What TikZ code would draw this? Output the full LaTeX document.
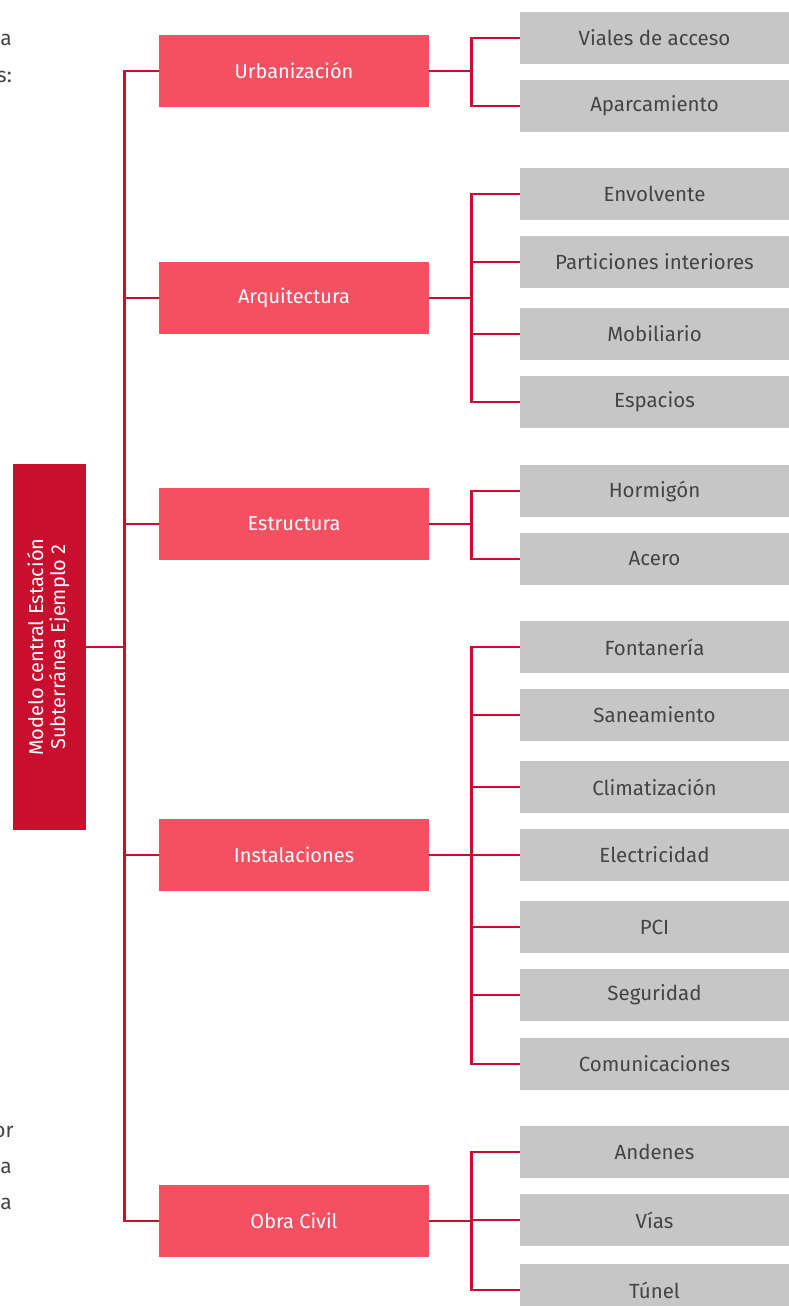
\documentclass[tikz,border=0pt]{standalone}
\usepackage{fontspec}
\setmainfont{Fira Sans}
\usetikzlibrary{positioning}
\definecolor{rootred}{HTML}{C8102E}
\definecolor{catred}{HTML}{F45062}
\definecolor{leafgray}{HTML}{C6C6C6}
\definecolor{wire}{HTML}{C8102E}
\definecolor{txtgray}{HTML}{444444}
\tikzset{
  rootbox/.style={fill=rootred, minimum width=73pt, minimum height=366pt, inner sep=0pt, text=white, font=\fontsize{20}{23}\selectfont},
  catbox/.style={fill=catred, minimum width=270pt, minimum height=72pt, inner sep=0pt, text=white, font=\fontsize{20}{24}\selectfont},
  leafbox/.style={fill=leafgray, minimum width=269pt, minimum height=52pt, inner sep=0pt, text=txtgray, font=\fontsize{20.5}{24}\selectfont},
  frag/.style={anchor=east, inner sep=0pt, text=txtgray, font=\fontsize{21}{24}\selectfont},
  wirestyle/.style={draw=wire, line width=2.6pt}
}
\begin{document}
\begin{tikzpicture}[x=1pt, y=-1pt]
\useasboundingbox (0,0) rectangle (789,1306);
\begin{scope}
\clip (0,0) rectangle (789,1306);

% fragments of the surrounding paragraph text
\node[frag] (fa) at (12,40) {a};
\node[frag] (fb) at (12,77) {s:};
\node[frag] (fc) at (14,1132) {or};
\node[frag] (fd) at (12,1168) {a};
\node[frag] (fe) at (12,1204) {a};

% root
\node[rootbox] (root) at (49.5,647) {\rotatebox{90}{\begin{tabular}{@{}c@{}}Modelo central Estación\\[-1pt] Subterránea Ejemplo 2\end{tabular}}};

% categories
\node[catbox] (urb) at (294,71) {Urbanización};
\node[catbox] (arq) at (294,298) {Arquitectura};
\node[catbox] (est) at (294,524) {Estructura};
\node[catbox] (ins) at (294,855) {Instalaciones};
\node[catbox] (obr) at (294,1221) {Obra Civil};

% leaves
\node[leafbox] (l1) at (654.5,38) {Viales de acceso};
\node[leafbox] (l2) at (654.5,106) {Aparcamiento};
\node[leafbox] (l3) at (654.5,194) {Envolvente};
\node[leafbox] (l4) at (654.5,262) {Particiones interiores};
\node[leafbox] (l5) at (654.5,334) {Mobiliario};
\node[leafbox] (l6) at (654.5,402) {Espacios};
\node[leafbox] (l7) at (654.5,491) {Hormigón};
\node[leafbox] (l8) at (654.5,559) {Acero};
\node[leafbox] (l9) at (654.5,647) {Fontanería};
\node[leafbox] (l10) at (654.5,715) {Saneamiento};
\node[leafbox] (l11) at (654.5,787) {Climatización};
\node[leafbox] (l12) at (654.5,855) {Electricidad};
\node[leafbox] (l13) at (654.5,927) {PCI};
\node[leafbox] (l14) at (654.5,995) {Seguridad};
\node[leafbox] (l15) at (654.5,1064) {Comunicaciones};
\node[leafbox] (l16) at (654.5,1152) {Andenes};
\node[leafbox] (l17) at (654.5,1220) {Vías};
\node[leafbox] (l18) at (654.5,1290) {Túnel};

% root to categories
\foreach \c in {urb,arq,est,ins,obr}
  \draw[wirestyle] (root.east) -- ++(38,0) |- (\c.west);

% categories to leaves
\foreach \c/\l in {urb/l1,urb/l2,arq/l3,arq/l4,arq/l5,arq/l6,est/l7,est/l8,
  ins/l9,ins/l10,ins/l11,ins/l12,ins/l13,ins/l14,ins/l15,obr/l16,obr/l17,obr/l18}
  \draw[wirestyle] (\c.east) -- ++(42,0) |- (\l.west);
\end{scope}
\end{tikzpicture}
\end{document}
